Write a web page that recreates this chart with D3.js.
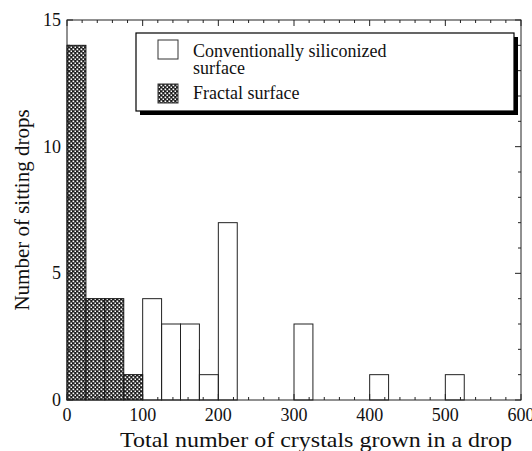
<!DOCTYPE html>
<html>
<head>
<meta charset="utf-8">
<script src="https://cdn.jsdelivr.net/npm/d3@7"></script>
<style>
  body { margin: 0; background: #fff; }
</style>
</head>
<body>
<svg width="532" height="451"></svg>
<script>
// histogram bins (left edge of each 25-wide bin) and counts
var binWidth = 25;
var fractalBins = [0, 25, 50, 75];
var fractalCounts = [14, 4, 4, 1];
var convBins = [100, 125, 150, 175, 200, 300, 400, 500];
var convCounts = [4, 3, 3, 1, 7, 3, 1, 1];
// stray edge line seen in the scan at 175
var strayX = [175];
var strayY = [2];

var xTicks = [0, 100, 200, 300, 400, 500, 600];
var yTicks = [0, 5, 10, 15];
var legendLabels = [["Conventionally siliconized", "surface"], ["Fractal surface"]];

var svg = d3.select('svg');
var padding = {t: 20, r: 11, b: 51, l: 67};
var W = +svg.attr('width'), H = +svg.attr('height');

var x = d3.scaleLinear().domain([0, 600]).range([padding.l, W - padding.r]);
var y = d3.scaleLinear().domain([0, 15]).range([H - padding.b, padding.t]);

function serif(sel) {
    return sel.style('font-family', "'Liberation Serif'").attr('fill', '#111');
}

// checker pattern for fractal bars
var defs = svg.append('defs');
var pat = defs.append('pattern')
    .attr('id', 'chk')
    .attr('patternUnits', 'userSpaceOnUse')
    .attr('width', 4).attr('height', 4);
pat.append('rect').attr('width', 4).attr('height', 4).attr('fill', '#1e1e1e');
pat.append('rect').attr('x', 0.5).attr('y', 0.5).attr('width', 1.7).attr('height', 1.7).attr('fill', '#fff');
pat.append('rect').attr('x', 2.5).attr('y', 2.5).attr('width', 1.7).attr('height', 1.7).attr('fill', '#fff');

var fractal = fractalBins.map(function(b, i) { return {x0: b, n: fractalCounts[i]}; });
var conv = convBins.map(function(b, i) { return {x0: b, n: convCounts[i]}; });

// conventional bars (open)
svg.append('g').selectAll('rect')
    .data(conv).enter().append('rect')
    .attr('x', function(d) { return x(d.x0); })
    .attr('y', function(d) { return y(d.n); })
    .attr('width', function(d) { return x(d.x0 + binWidth) - x(d.x0); })
    .attr('height', function(d) { return y(0) - y(d.n); })
    .attr('fill', 'none')
    .attr('stroke', '#222')
    .attr('stroke-width', 1);

svg.append('g').selectAll('line')
    .data(strayX).enter().append('line')
    .attr('x1', function(d) { return x(d); })
    .attr('x2', function(d) { return x(d); })
    .attr('y1', y(0))
    .attr('y2', function(d, i) { return y(strayY[i]); })
    .attr('stroke', '#222');

// fractal bars (hatched)
svg.append('g').selectAll('rect')
    .data(fractal).enter().append('rect')
    .attr('x', function(d) { return x(d.x0); })
    .attr('y', function(d) { return y(d.n); })
    .attr('width', function(d) { return x(d.x0 + binWidth) - x(d.x0); })
    .attr('height', function(d) { return y(0) - y(d.n); })
    .attr('fill', 'url(#chk)')
    .attr('stroke', '#111')
    .attr('stroke-width', 1);

// frame with inward ticks on all four sides
var xMinor = d3.range(0, 601, 20), yMinor = d3.range(0, 16, 1);
var frame = svg.append('g').attr('stroke', '#222').attr('fill', 'none');
frame.append('rect')
    .attr('x', x(0)).attr('y', y(15))
    .attr('width', x(600) - x(0)).attr('height', y(0) - y(15));

frame.selectAll('.bt').data(xMinor).enter().append('line')
    .attr('x1', function(d) { return x(d); }).attr('x2', function(d) { return x(d); })
    .attr('y1', y(0)).attr('y2', function(d) { return y(0) - (d % 100 === 0 ? 6 : 3); });
frame.selectAll('.tt').data(xMinor).enter().append('line')
    .attr('x1', function(d) { return x(d); }).attr('x2', function(d) { return x(d); })
    .attr('y1', y(15)).attr('y2', function(d) { return y(15) + (d % 100 === 0 ? 6 : 3); });
frame.selectAll('.lt').data(yMinor).enter().append('line')
    .attr('y1', function(d) { return y(d); }).attr('y2', function(d) { return y(d); })
    .attr('x1', x(0)).attr('x2', function(d) { return x(0) + (d % 5 === 0 ? 6 : 3); });
frame.selectAll('.rt').data(yMinor).enter().append('line')
    .attr('y1', function(d) { return y(d); }).attr('y2', function(d) { return y(d); })
    .attr('x1', x(600)).attr('x2', function(d) { return x(600) - (d % 5 === 0 ? 6 : 3); });

// tick labels
svg.append('g').selectAll('text').data(xTicks).enter().append('text')
    .attr('x', function(d) { return x(d); })
    .attr('y', y(0) + 21)
    .attr('text-anchor', 'middle')
    .attr('font-size', 18)
    .call(serif)
    .text(function(d) { return d; });
svg.append('g').selectAll('text').data(yTicks).enter().append('text')
    .attr('x', 61)
    .attr('y', function(d) { return y(d) + 6; })
    .attr('text-anchor', 'end')
    .attr('font-size', 18)
    .call(serif)
    .text(function(d) { return d; });

// axis titles
svg.append('text')
    .attr('x', 316)
    .attr('y', 447)
    .attr('text-anchor', 'middle')
    .attr('font-size', 21.5)
    .attr('textLength', 392)
    .attr('lengthAdjust', 'spacingAndGlyphs')
    .call(serif)
    .text('Total number of crystals grown in a drop');
svg.append('text')
    .attr('transform', 'translate(29,210) rotate(-90)')
    .attr('text-anchor', 'middle')
    .attr('font-size', 21)
    .call(serif)
    .text('Number of sitting drops');

// legend with heavy drop shadow
var lg = svg.append('g');
lg.append('rect').attr('x', 140).attr('y', 37).attr('width', 378).attr('height', 78).attr('fill', '#000');
lg.append('rect').attr('x', 136).attr('y', 33).attr('width', 378).attr('height', 78)
    .attr('fill', '#fff').attr('stroke', '#000').attr('stroke-width', 1.2);
lg.append('rect').attr('x', 158).attr('y', 40).attr('width', 20).attr('height', 19)
    .attr('fill', '#fff').attr('stroke', '#333');
lg.append('rect').attr('x', 158).attr('y', 84).attr('width', 20).attr('height', 19)
    .attr('fill', 'url(#chk)').attr('stroke', '#333');
lg.append('text').attr('x', 193).attr('y', 57).attr('font-size', 18).call(serif).text(legendLabels[0][0]);
lg.append('text').attr('x', 193).attr('y', 74).attr('font-size', 18).call(serif).text(legendLabels[0][1]);
lg.append('text').attr('x', 193).attr('y', 99).attr('font-size', 18).call(serif).text(legendLabels[1][0]);
</script>
</body>
</html>
